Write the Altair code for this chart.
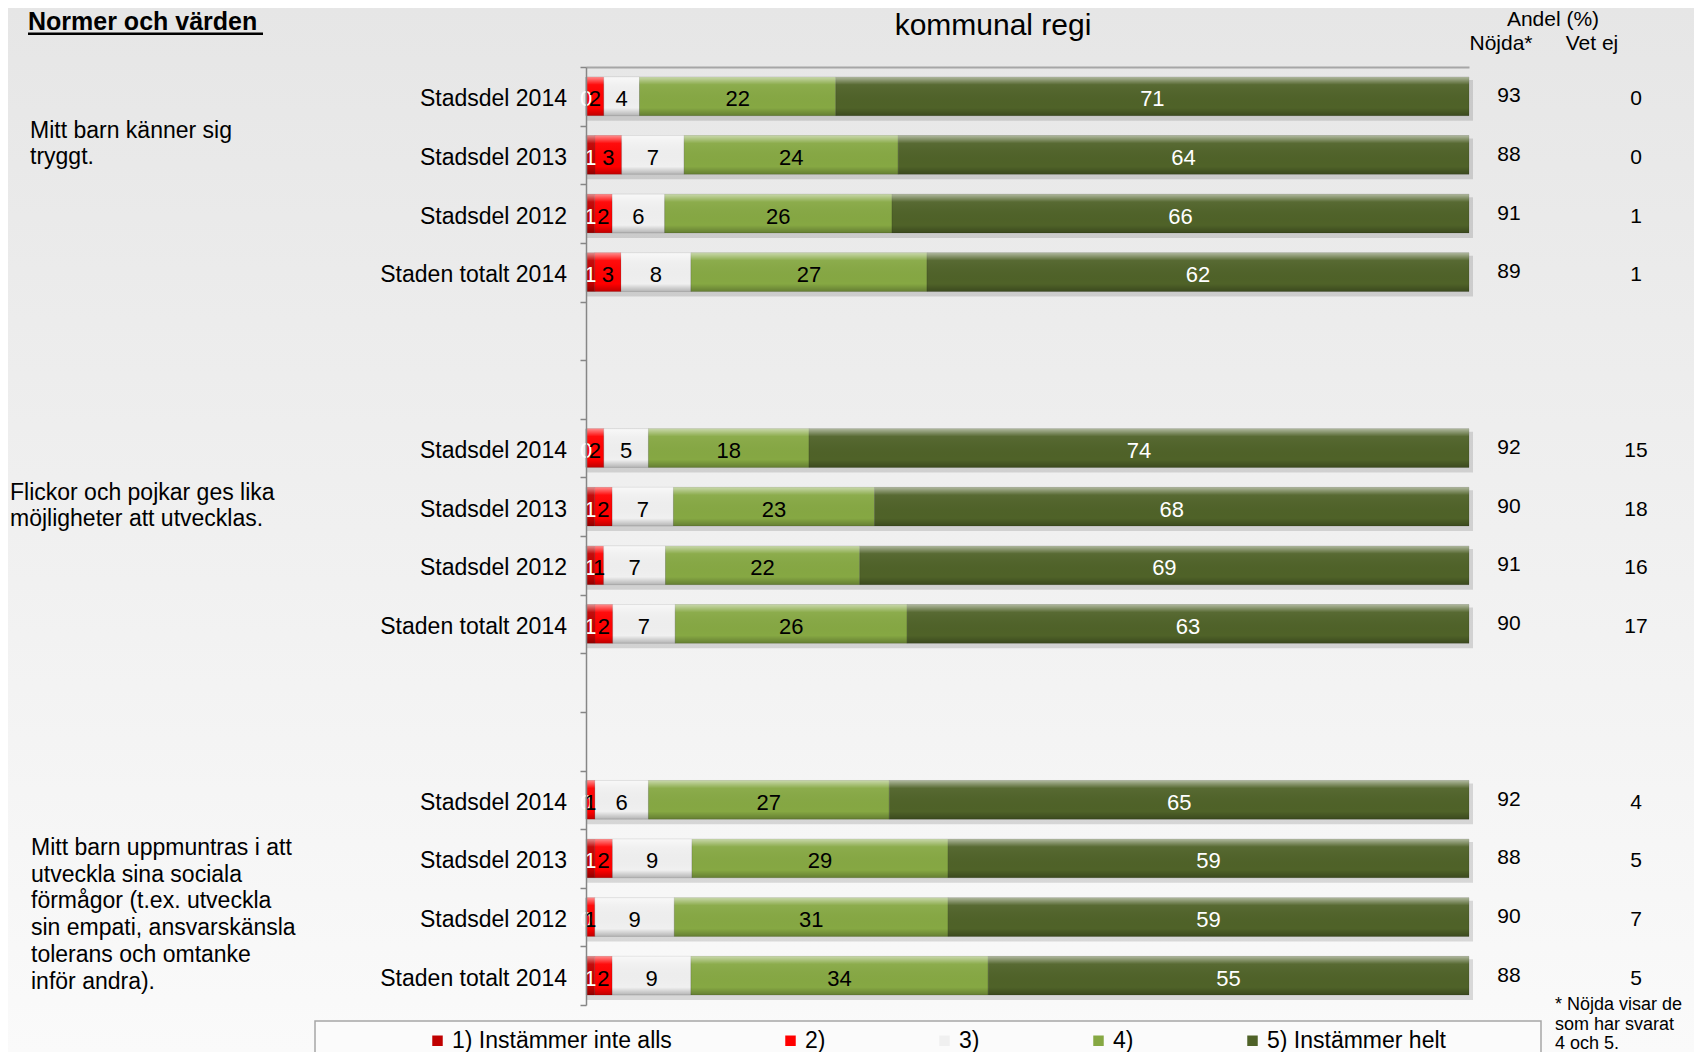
import altair as alt
import pandas as pd

FONT = "Liberation Sans"

# ---------------- data ----------------
categories = ["1) Instämmer inte alls", "2)", "3)", "4)", "5) Instämmer helt"]
cat_colors = ["#c00000", "#ff0000", "#f0f0f0", "#86a843", "#4f6228"]
row_labels = ["Stadsdel 2014", "Stadsdel 2013", "Stadsdel 2012", "Staden totalt 2014"]
question_lines = [
    ["Mitt barn känner sig", "tryggt."],
    ["Flickor och pojkar ges lika", "möjligheter att utvecklas."],
    ["Mitt barn uppmuntras i att", "utveckla sina sociala", "förmågor (t.ex. utveckla",
     "sin empati, ansvarskänsla", "tolerans och omtanke", "inför andra)."],
]
values_q1 = [[0, 2, 4, 22, 71], [1, 3, 7, 24, 64], [1, 2, 6, 26, 66], [1, 3, 8, 27, 62]]
values_q2 = [[0, 2, 5, 18, 74], [1, 2, 7, 23, 68], [1, 1, 7, 22, 69], [1, 2, 7, 26, 63]]
values_q3 = [[0, 1, 6, 27, 65], [1, 2, 9, 29, 59], [0, 1, 9, 31, 59], [1, 2, 9, 34, 55]]
nojda = [[93, 88, 91, 89], [92, 90, 91, 90], [92, 88, 90, 88]]
vet_ej = [[0, 0, 1, 1], [15, 18, 16, 17], [4, 5, 7, 5]]
title_text = "kommunal regi"
section_text = "Normer och värden"
header_top = "Andel (%)"
header_cols = ["Nöjda*", "Vet ej"]
footnote_lines = ["* Nöjda visar de", "som har svarat", "4 och 5."]

values = [values_q1, values_q2, values_q3]

# ---------------- layout helpers (page coordinates -> plot coordinates) ----------------
PLOT_X0, PLOT_Y0 = 586, 67
PLOT_W, PLOT_H = 883, 938
PAD = {"left": PLOT_X0 - 8, "top": PLOT_Y0 - 8, "right": 1694 - PLOT_X0 - PLOT_W,
       "bottom": 1052 - PLOT_Y0 - PLOT_H}


def px(x):
    return x - PLOT_X0


def py(y):
    return y - PLOT_Y0


def label(text, x, y, size=23, align="left", baseline="middle", weight="normal", color="black"):
    return alt.Chart(pd.DataFrame({"t": [text]})).mark_text(
        align=align, baseline=baseline, fontSize=size, fontWeight=weight, color=color, font=FONT
    ).encode(text="t:N", x=alt.value(px(x)), y=alt.value(py(y)))


# ---------------- tables ----------------
seg_rows, row_rows = [], []
for g in range(3):
    for r in range(4):
        slot = g * 6 + r
        row_rows.append(dict(slot=slot, label=row_labels[r], nojda=nojda[g][r], vetej=vet_ej[g][r]))
        for c in range(5):
            seg_rows.append(dict(slot=slot, ci=c, cat=categories[c], value=values[g][r][c]))
seg_df = pd.DataFrame(seg_rows)
row_df = pd.DataFrame(row_rows)

xs = alt.Scale(domain=[0, 1], nice=False, zero=False)
ys = alt.Scale(domain=[0, 16], reverse=True, nice=False, zero=False)
xaxis = alt.Axis(orient="top", labels=False, ticks=False, grid=False, domainColor="#a6a6a6",
                 domainWidth=2, title=None, zindex=1)
yaxis = alt.Axis(values=list(range(17)), labels=False, grid=False, tickSize=6, tickColor="#868686",
                 tickWidth=1.5, domainColor="#868686", domainWidth=1.5, title=None, zindex=1)

# background gradient
bg = alt.Chart(pd.DataFrame({"a": [0]})).mark_rect(
    fill=alt.Gradient(gradient="linear",
                      stops=[alt.GradientStop(color="#e6e6e6", offset=0),
                             alt.GradientStop(color="#fafafa", offset=1)],
                      x1=0, x2=0, y1=0, y2=1)
).encode(x=alt.value(-PAD["left"]), x2=alt.value(1686 - PAD["left"]),
         y=alt.value(-PAD["top"]), y2=alt.value(1044 - PAD["top"]))

# shadows under bars
shadow = alt.Chart(row_df).transform_calculate(
    x0="0", x1="1", y0="datum.slot + 0.17", y1="datum.slot + 0.83"
).mark_rect(fill="black", opacity=0.13, xOffset=1, x2Offset=4, yOffset=3, y2Offset=5).encode(
    x=alt.X("x0:Q", scale=xs, axis=xaxis), x2="x1:Q",
    y=alt.Y("y0:Q", scale=ys, axis=yaxis), y2="y1:Q")

stacked = alt.Chart(seg_df).transform_stack(
    stack="value", groupby=["slot"], as_=["v0", "v1"], offset="normalize",
    sort=[alt.SortField(field="ci", order="ascending")]
).transform_calculate(
    y0="datum.slot + 0.17", y1="datum.slot + 0.83", ym="datum.slot + 0.5",
    xm="(datum.v0 + datum.v1) / 2"
)

bars = stacked.mark_rect(stroke="black", strokeOpacity=0.12, strokeWidth=1).encode(
    x=alt.X("v0:Q", scale=xs, axis=xaxis), x2="v1:Q",
    y=alt.Y("y0:Q", scale=ys, axis=yaxis), y2="y1:Q",
    color=alt.Color("cat:N", scale=alt.Scale(domain=categories, range=cat_colors), title=None,
                    legend=alt.Legend(orient="none", legendX=px(426), legendY=py(1029),
                                      direction="horizontal", columns=5, symbolType="square",
                                      symbolSize=110, symbolStrokeWidth=0, labelFontSize=23,
                                      labelFont=FONT, labelColor="black", labelLimit=400,
                                      labelOffset=3, columnPadding=107, padding=0)),
)

bevel = stacked.mark_rect(
    fill=alt.Gradient(gradient="linear",
                      stops=[alt.GradientStop(color="rgba(255,255,255,0.55)", offset=0),
                             alt.GradientStop(color="rgba(255,255,255,0.05)", offset=0.2),
                             alt.GradientStop(color="rgba(0,0,0,0)", offset=0.8),
                             alt.GradientStop(color="rgba(0,0,0,0.25)", offset=1)],
                      x1=0, x2=0, y1=0, y2=1)
).encode(x=alt.X("v0:Q", scale=xs, axis=xaxis), x2="v1:Q",
         y=alt.Y("y0:Q", scale=ys, axis=yaxis), y2="y1:Q")

txt_white = stacked.transform_filter("datum.ci == 0 || datum.ci == 4").mark_text(
    fontSize=22, font=FONT, color="white", baseline="middle", yOffset=3).encode(
    x=alt.X("xm:Q", scale=xs, axis=xaxis), y=alt.Y("ym:Q", scale=ys, axis=yaxis), text="value:Q")
txt_black = stacked.transform_filter("datum.ci != 0 && datum.ci != 4").mark_text(
    fontSize=22, font=FONT, color="black", baseline="middle", yOffset=3).encode(
    x=alt.X("xm:Q", scale=xs, axis=xaxis), y=alt.Y("ym:Q", scale=ys, axis=yaxis), text="value:Q")

rows_base = alt.Chart(row_df).transform_calculate(ym="datum.slot + 0.5")
row_text = rows_base.mark_text(align="right", baseline="middle", fontSize=23, font=FONT,
                               color="black", yOffset=3).encode(
    x=alt.value(px(567)), y=alt.Y("ym:Q", scale=ys, axis=yaxis), text="label:N")
nojda_text = rows_base.mark_text(align="center", baseline="middle", fontSize=21, font=FONT,
                                 color="black", yOffset=0).encode(
    x=alt.value(px(1509)), y=alt.Y("ym:Q", scale=ys, axis=yaxis), text="nojda:Q")
vetej_text = rows_base.mark_text(align="center", baseline="middle", fontSize=21, font=FONT,
                                 color="black", yOffset=3).encode(
    x=alt.value(px(1636)), y=alt.Y("ym:Q", scale=ys, axis=yaxis), text="vetej:Q")

# legend frame
legend_box = alt.Chart(pd.DataFrame({"a": [0]})).mark_rect(
    fill="#fbfbfb", stroke="#a6a6a6", strokeWidth=1.5
).encode(x=alt.value(px(315)), x2=alt.value(px(1541)), y=alt.value(py(1021)), y2=alt.value(py(1090)))

# annotations
annots = []
annots.append(label(title_text, 993, 35, size=30, align="center", baseline="alphabetic"))
annots.append(label(section_text, 28, 30, size=25, baseline="alphabetic", weight="bold"))
annots.append(alt.Chart(pd.DataFrame({"a": [0]})).mark_rect(fill="black").encode(
    x=alt.value(px(28)), x2=alt.value(px(263)), y=alt.value(py(32.5)), y2=alt.value(py(35))))
annots.append(label(header_top, 1553, 20, size=21, align="center"))
annots.append(label(header_cols[0], 1501, 44, size=21, align="center"))
annots.append(label(header_cols[1], 1592, 44, size=21, align="center"))

q_pos = [(30, 131, 26), (10, 493, 26), (31, 848, 26.7)]
for lines, (qx, qy, lh) in zip(question_lines, q_pos):
    for i, line in enumerate(lines):
        annots.append(label(line, qx, qy + i * lh, size=23))
for i, line in enumerate(footnote_lines):
    annots.append(label(line, 1555, 1005 + i * 19.5, size=18))

chart = alt.layer(
    bg, legend_box, shadow, bars, bevel, txt_white, txt_black, row_text, nojda_text, vetej_text,
    *annots
).properties(
    width=PLOT_W, height=PLOT_H, padding=PAD, autosize=alt.AutoSizeParams(type="none"),
    background="#f0f0f0"
).configure_view(stroke=None).configure(font=FONT)

chart.save("out.html", embed_options={"renderer": "svg", "actions": False})
